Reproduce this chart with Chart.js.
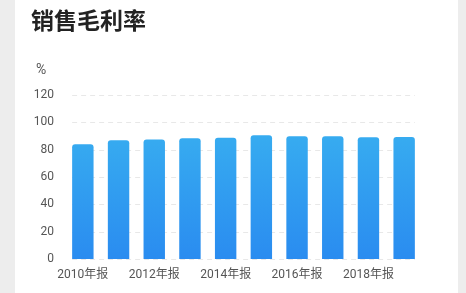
<!DOCTYPE html>
<html><head><meta charset="utf-8">
<script src="https://cdn.jsdelivr.net/npm/chart.js@4/dist/chart.umd.min.js"></script>
<style>
html,body{margin:0;padding:0;background:#ededed;width:466px;height:293px;overflow:hidden;}
#card{position:absolute;left:15px;top:0;width:443px;height:293px;background:#fff;}
#title{position:absolute;left:16px;top:2px;font:bold 23px "Noto Sans CJK SC",sans-serif;color:#222;}
#unit{position:absolute;left:21px;top:61px;font:14px Roboto,"Noto Sans CJK SC",sans-serif;color:#555;}
#c{position:absolute;left:0;top:0;}
</style></head>
<body>
<div id="card">
<canvas id="c" width="443" height="293"></canvas>
<div id="title">销售毛利率</div>
<div id="unit">%</div>
</div>
<script>
const categories = ['2010年报','2011年报','2012年报','2013年报','2014年报','2015年报','2016年报','2017年报','2018年报','2019年报'];
const grossMargin = [83.9, 86.8, 87.5, 88.3, 88.7, 90.5, 89.9, 89.8, 89.1, 89.3];
const yTicks = [0, 20, 40, 60, 80, 100, 120];

const dashGrid = {
  id: 'dashGrid',
  beforeDatasetsDraw(chart) {
    const ctx = chart.ctx, y = chart.scales.y;
    const bars = chart.getDatasetMeta(0).data;
    const first = bars[0], last = bars[bars.length - 1];
    const x0 = first.x - first.width / 2, x1 = last.x + last.width / 2;
    ctx.save();
    ctx.strokeStyle = '#e8e8e8';
    ctx.lineWidth = 1;
    ctx.setLineDash([5, 4]);
    yTicks.forEach(v => {
      const py = Math.round(y.getPixelForValue(v)) + 0.5;
      ctx.beginPath(); ctx.moveTo(x0, py); ctx.lineTo(x1, py); ctx.stroke();
    });
    ctx.restore();
  }
};

new Chart(document.getElementById('c'), {
  type: 'bar',
  data: {
    labels: categories,
    datasets: [{
      data: grossMargin,
      backgroundColor(ctx) {
        const ch = ctx.chart;
        if (!ch.chartArea) return '#2f9bf0';
        const y = ch.scales.y;
        const g = ch.ctx.createLinearGradient(0, y.getPixelForValue(92), 0, y.getPixelForValue(0));
        g.addColorStop(0, '#37acf0');
        g.addColorStop(1, '#2a8cf0');
        return g;
      },
      borderRadius: {topLeft: 3, topRight: 3, bottomLeft: 0, bottomRight: 0},
      borderSkipped: 'bottom',
      categoryPercentage: 1,
      barPercentage: 0.6
    }]
  },
  options: {
    responsive: false,
    animation: false,
    layout: {padding: {left: 0, right: 36, top: 95, bottom: 0}},
    plugins: {legend: {display: false}, tooltip: {enabled: false}},
    scales: {
      x: {
        grid: {display: false, drawTicks: false},
        border: {display: false},
        ticks: {
          autoSkip: false, maxRotation: 0, padding: 9,
          color: '#555',
          font: {size: 12, family: 'Roboto, "Noto Sans CJK SC", sans-serif'},
          callback(v, i) { return i % 2 === 0 ? categories[i] : ''; }
        },
        afterFit(s) { s.height = 34; }
      },
      y: {
        min: 0, max: 120,
        afterBuildTicks(s) { s.ticks = yTicks.map(v => ({value: v})); },
        grid: {display: false, drawTicks: false},
        border: {display: false},
        ticks: {
          padding: 11, color: '#555',
          font: {size: 12, family: 'Roboto, "Noto Sans CJK SC", sans-serif'}
        },
        afterFit(s) { s.width = 50; }
      }
    }
  },
  plugins: [dashGrid]
});
</script>
</body></html>
